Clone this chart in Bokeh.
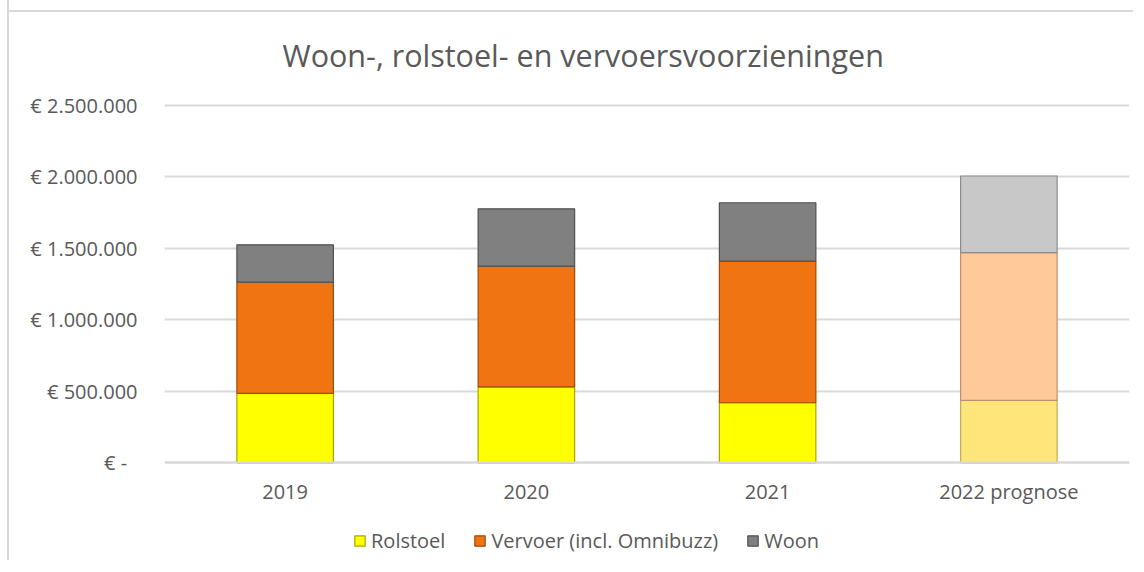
import numpy as np
from bokeh.plotting import figure
from bokeh.models import (FactorRange, FixedTicker, Legend, LegendItem,
                          ColumnDataSource, Range1d)
from bokeh.embed import file_html
from bokeh.resources import INLINE

# ---- data ----
categories = ["2019", "2020", "2021", "2022 prognose"]
rolstoel = [485000, 531000, 420000, 437000]
vervoer = [778000, 844000, 990000, 1033000]
woon = [261000, 401000, 408000, 535000]
series_names = ["Rolstoel", "Vervoer (incl. Omnibuzz)", "Woon"]
y_ticks = [0, 500000, 1000000, 1500000, 2000000, 2500000]
y_tick_labels = ["€ -", "€ 500.000", "€ 1.000.000", "€ 1.500.000",
                 "€ 2.000.000", "€ 2.500.000"]
title_text = "Woon-, rolstoel- en vervoersvoorzieningen"

# ---- styles ----
FONT = "Open Sans"
TXT = "#595959"
fills = [
    ["#FFFF00", "#FFFF00", "#FFFF00", "#FFE57A"],
    ["#F07412", "#F07412", "#F07412", "#FFC999"],
    ["#808080", "#808080", "#808080", "#C8C8C8"],
]
lines = [
    ["#A8A400", "#A8A400", "#A8A400", "#C2AE55"],
    ["#A04A08", "#A04A08", "#A04A08", "#BF8F6C"],
    ["#505050", "#505050", "#505050", "#8C8C8C"],
]

p = figure(
    x_range=FactorRange(*categories, range_padding=0),
    y_range=Range1d(-683000, 2519000),
    width=1126, height=560,
    output_backend="svg", toolbar_location=None,
    min_border_left=155, min_border_right=6, min_border_top=102,
    min_border_bottom=0,
    styles={"border-left": "2px solid #D9D9D9",
            "margin-left": "7px",
            "background": "linear-gradient(#D9D9D9, #D9D9D9) 0px 10px / 100% 2px no-repeat"},
)
p.outline_line_color = None
p.background_fill_color = "white"
p.border_fill_color = None

series = [rolstoel, vervoer, woon]
bottom = np.zeros(len(categories))
renderers = []
for vals, fc, lc in zip(series, fills, lines):
    vals = np.array(vals, dtype=float)
    src = ColumnDataSource(dict(x=categories, bottom=bottom.copy(),
                                top=bottom + vals, fill=fc, line=lc))
    r = p.vbar(x="x", bottom="bottom", top="top", width=0.4, source=src,
               fill_color="fill", line_color="line", line_width=1.2)
    renderers.append(r)
    bottom = bottom + vals

# ---- axes ----
p.yaxis.ticker = FixedTicker(ticks=y_ticks)
p.yaxis.major_label_overrides = {
    t: (l + "\u00a0\u00a0" if l.endswith("-") else l)
    for t, l in zip(y_ticks, y_tick_labels)}
p.yaxis.axis_line_color = None
p.yaxis.major_tick_line_color = None
p.yaxis.minor_tick_line_color = None
p.yaxis.major_label_standoff = 21
p.yaxis.major_label_text_font = FONT
p.yaxis.major_label_text_font_size = "20px"
p.yaxis.major_label_text_color = TXT

p.xaxis.fixed_location = 0
p.xaxis.axis_line_color = "#D9D9D9"
p.xaxis.axis_line_width = 2
p.xaxis.major_tick_line_color = None
p.xaxis.minor_tick_line_color = None
p.xaxis.major_label_standoff = 9
p.xaxis.major_label_text_font = FONT
p.xaxis.major_label_text_font_size = "20px"
p.xaxis.major_label_text_color = TXT

p.xgrid.grid_line_color = None
p.ygrid.grid_line_color = "#D9D9D9"
p.ygrid.grid_line_width = 2

# ---- title ----
p.title.text = title_text
p.title.align = "left"
p.title.offset = 118
p.title.text_font = FONT
p.title.text_font_size = "30.5px"
p.title.text_font_style = "normal"
p.title.text_color = TXT
p.title.standoff = 53

# ---- legend ----
items = [LegendItem(label=n, renderers=[r], index=0)
         for n, r in zip(series_names, renderers)]
legend = Legend(items=items, orientation="horizontal", location=(189, 6),
                label_text_font=FONT, label_text_font_size="20px",
                label_text_color=TXT, glyph_width=13, glyph_height=13,
                label_standoff=5, spacing=28, border_line_color=None,
                background_fill_alpha=0, margin=0, padding=4)
p.add_layout(legend)

open("out.html", "w").write(file_html(p, INLINE))
